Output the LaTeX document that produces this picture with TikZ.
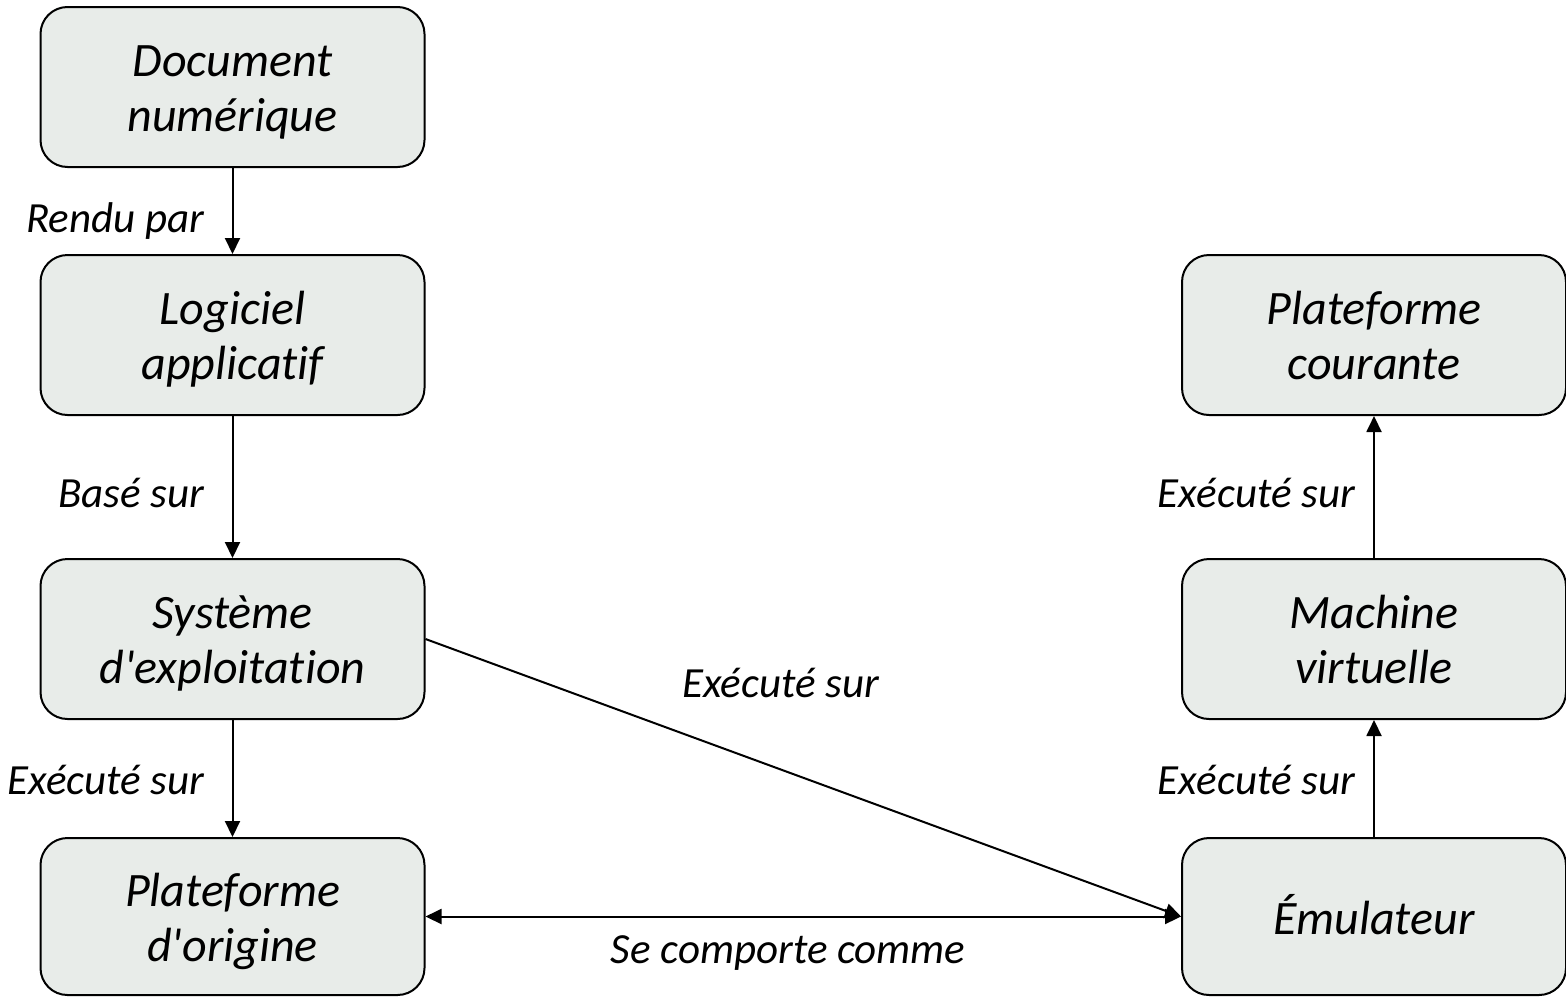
\documentclass[tikz,border=0pt]{standalone}
\usepackage{fontspec}
\setmainfont{Carlito}[Ligatures={TeXOff,CommonOff}]
\usetikzlibrary{arrows.meta}
\definecolor{boxfill}{RGB}{232,236,233}
% centred block of lines, drawn slightly below the box centre
\newcommand{\boxtext}[1]{\raisebox{-3pt}[\height][\depth]{\begin{tabular}{@{}c@{}}#1\end{tabular}}}
\tikzset{
  box/.style={draw=black, line width=1pt, fill=boxfill, rounded corners=13.5pt,
    minimum width=192pt, minimum height=80pt, inner sep=0pt,
    font=\fontsize{24}{27.5}\selectfont\itshape},
  lowbox/.style={box, minimum height=78.5pt},
  tip/.style={Triangle[length=8pt,width=7.5pt]},
  arr/.style={line width=1pt, -{Triangle[length=8pt,width=7.5pt]}},
  biarr/.style={line width=1pt, {Triangle[length=8pt,width=7.5pt]}-{Triangle[length=8pt,width=7.5pt]}},
  lab/.style={inner sep=0pt, font=\fontsize{21.5}{25}\selectfont\itshape}
}
\begin{document}
\begin{tikzpicture}[x=0.5pt, y=-0.5pt]
  \useasboundingbox (0,0) rectangle (1566,996);
  % left column
  \node[box] (doc) at (232.5,87) {\boxtext{Document\\numérique}};
  \node[box] (log) at (232.5,335) {\boxtext{Logiciel\\applicatif}};
  \node[box] (sys) at (232.5,639) {\boxtext{Système\\d'exploitation}};
  \node[lowbox] (orig) at (232.5,916.5) {\boxtext{Plateforme\\d'origine}};
  % right column
  \node[box] (cour) at (1374,335) {\boxtext{Plateforme\\courante}};
  \node[box] (vm) at (1374,639) {\boxtext{Machine\\virtuelle}};
  \node[lowbox] (emu) at (1374,916.5) {\boxtext{Émulateur}};
  % connectors
  \draw[arr] (doc) -- node[lab, pos=0.62, left=13.5pt] {Rendu par} (log);
  \draw[arr] (log) -- node[lab, pos=0.54, left=13.5pt] {Basé sur} (sys);
  \draw[arr] (sys) -- node[lab, pos=0.51, left=13.5pt] {Exécuté sur} (orig);
  \draw[arr] (vm) -- node[lab, pos=0.46, left=9pt] {Exécuté sur} (cour);
  \draw[arr] (emu) -- node[lab, pos=0.49, left=9pt] {Exécuté sur} (vm);
  \draw[arr] (sys.east) -- node[lab, pos=0.47, yshift=43pt] {Exécuté sur} (emu.west);
  \draw[biarr] (orig.east) -- node[lab, pos=0.48, yshift=-18.5pt] {Se comporte comme} (emu.west);
\end{tikzpicture}
\end{document}
